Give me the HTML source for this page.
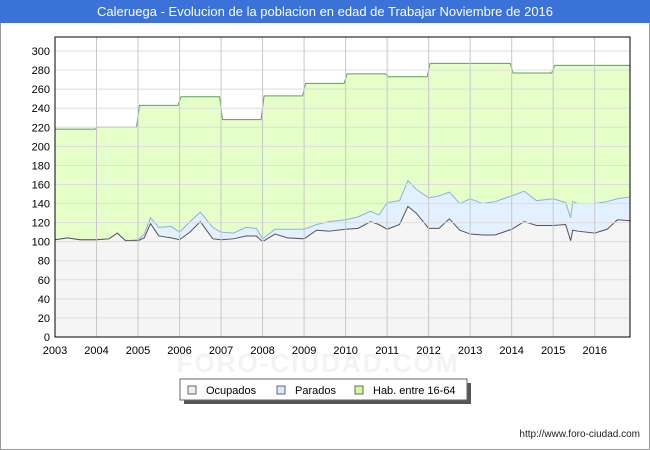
<!DOCTYPE html>
<html><head><meta charset="utf-8"><style>
body{margin:0;background:#fff;font-family:"Liberation Sans",sans-serif}
#wrap{position:relative;width:650px;height:450px;overflow:hidden}
</style></head><body>
<div id="wrap">
<svg id="svg" width="650" height="450" xmlns="http://www.w3.org/2000/svg">
<rect x="0.5" y="0.5" width="649" height="449" fill="#fff" stroke="#999"/>
<rect x="0" y="0" width="650" height="23" fill="#3a72d8"/>
<text x="325" y="16" text-anchor="middle" font-size="13" fill="#fff">Caleruega - Evolucion de la poblacion en edad de Trabajar Noviembre de 2016</text>
<text x="318" y="372" text-anchor="middle" font-size="26" fill="#f3f3f3" font-weight="bold" letter-spacing="2">FORO-CIUDAD.COM</text>
<rect x="55" y="37" width="575" height="300" fill="#fff"/>
<g id="grid"></g>
<g id="series"></g>
<g id="axes"></g>
<g>
<rect x="184" y="383" width="287" height="21" fill="#555"/>
<rect x="180" y="379" width="287" height="21" fill="#fff" stroke="#666"/>
<g><rect x="188" y="386" width="8" height="8" fill="#eee" stroke="#666"/><text x="206" y="394" font-size="11">Ocupados</text></g>
<g><rect x="277" y="386" width="8" height="8" fill="#d6eaff" stroke="#666"/><text x="295" y="394" font-size="11">Parados</text></g>
<g><rect x="355" y="386" width="8" height="8" fill="#ccff99" stroke="#666"/><text x="373" y="394" font-size="11">Hab. entre 16-64</text></g>
</g>
<text x="640" y="437" text-anchor="end" font-size="10" fill="#222">http://www.foro-ciudad.com</text>
</svg>
</div>
<script>
const habYears=[2003,2004,2005,2006,2007,2008,2009,2010,2011,2012,2013,2014,2015,2016];
const habValues=[218,220,243,252,228,253,266,276,273,287,287,277,285,285];
const times=[2003,2003.3,2003.6,2004,2004.3,2004.5,2004.7,2005,2005.15,2005.3,2005.5,2005.8,2006,2006.25,2006.5,2006.8,2007,2007.3,2007.6,2007.85,2008,2008.3,2008.6,2009,2009.3,2009.6,2010,2010.3,2010.6,2010.8,2011,2011.3,2011.5,2011.7,2012,2012.25,2012.5,2012.75,2013,2013.3,2013.6,2014,2014.3,2014.6,2015,2015.3,2015.42,2015.47,2015.6,2016,2016.3,2016.55,2016.85];
const ocupados=[102,104,102,102,103,109,101,101,104,119,106,104,102,110,121,103,102,103,106,106,100,108,104,103,112,111,113,114,121,118,113,118,137,130,114,114,124,112,108,107,107,113,121,117,117,118,101,112,111,109,113,123,122];
const activos=[102,104,102,102,103,109,101,102,108,125,115,116,110,121,131,115,110,109,115,114,103,113,113,113,118,121,123,126,132,128,141,143,164,155,146,148,152,140,145,140,142,148,153,143,145,141,125,142,140,140,142,145,147];
const yTicks=[0,20,40,60,80,100,120,140,160,180,200,220,240,260,280,300];
const xTicks=[2003,2004,2005,2006,2007,2008,2009,2010,2011,2012,2013,2014,2015,2016];
const X0=55,X1=630,Y0=337,T0=2003,T1=2016.85,YMAX=314.7;
const xs=t=>X0+(t-T0)/(T1-T0)*(X1-X0);
const ys=v=>Y0-v/YMAX*300;
const NS="http://www.w3.org/2000/svg";
function mk(tag,attrs,parent){const e=document.createElementNS(NS,tag);for(const k in attrs)e.setAttribute(k,attrs[k]);parent.appendChild(e);return e;}
const grid=document.getElementById('grid'),ser=document.getElementById('series'),ax=document.getElementById('axes');
yTicks.forEach(v=>{if(v>0){const l=mk('line',{x1:X0,x2:X1,y1:ys(v),y2:ys(v),stroke:'#ddd'},grid);

}
const t=mk('text',{x:X0-5,y:ys(v)+4,'text-anchor':'end','font-size':11,fill:'#000'},ax);t.textContent=v;

});
let hp=[];habYears.forEach((y,i)=>{const x1=xs(y),x2=xs(Math.min(y+1,T1));hp.push([x1+(i?1.5:0),ys(habValues[i])],[x2-1.5,ys(habValues[i])]);});
hp[hp.length-1][0]=X1;
const habPath='M'+hp.map(p=>p.join(',')).join('L');
const ha=mk('path',{d:habPath+`L${X1},${Y0}L${X0},${Y0}Z`,fill:'#e6ffc8'},ser);


const pts=a=>times.map((t,i)=>xs(t)+','+ys(a[i])).join('L');
const aa=mk('path',{d:'M'+pts(activos)+`L${X1},${Y0}L${X0},${Y0}Z`,fill:'#e2f0ff'},ser);


const oa=mk('path',{d:'M'+pts(ocupados)+`L${X1},${Y0}L${X0},${Y0}Z`,fill:'#f5f5f5'},ser);


xTicks.forEach(y=>{if(y>T0){const l=mk('line',{x1:xs(y),x2:xs(y),y1:37,y2:Y0,stroke:'#c8c8c8'},grid);

}
const t=mk('text',{x:xs(y),y:Y0+17,'text-anchor':'middle','font-size':11,fill:'#000'},ax);t.textContent=y;

});
ser.parentNode.insertBefore(grid,ser.nextSibling);
const hl=mk('path',{d:habPath,fill:'none',stroke:'#5aa05a','stroke-width':1},ser);


const al=mk('path',{d:'M'+pts(activos),fill:'none',stroke:'#8ab0e8','stroke-width':1},ser);


const ol=mk('path',{d:'M'+pts(ocupados),fill:'none',stroke:'#555','stroke-width':1},ser);


const fr=mk('rect',{x:X0,y:37,width:X1-X0,height:Y0-37,fill:'none',stroke:'#000'},ax);


</script>
</body></html>
